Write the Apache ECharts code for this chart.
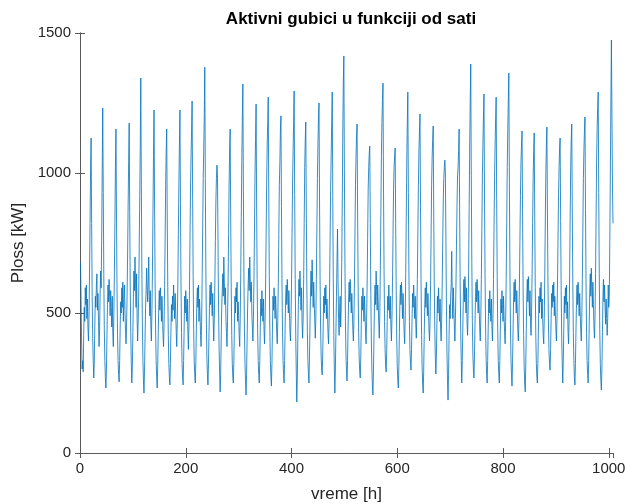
<!DOCTYPE html>
<html>
<head>
<meta charset="utf-8">
<script src="https://cdn.jsdelivr.net/npm/echarts@6/dist/echarts.min.js"></script>
<style>
html, body { margin: 0; padding: 0; background: #fff; }
#chart { width: 625px; height: 504px; }
</style>
</head>
<body>
<div id="chart"></div>
<script>
// procitano sa slike, sat po sat (1..1008)
var plossStart = [680, 560, 400, 300, 330, 290, 420, 520, 470, 590, 530, 600, 480, 550, 450, 400, 480, 640, 820, 1010];

var plossPart1 = [
	1125, 820, 560, 410, 330, 268, 320, 450, 560, 520, 600, 640, 510, 570, 470, 380, 440, 560, 650, 590, 760, 1010,
	1232, 930, 640, 440, 330, 270, 232, 300, 420, 530, 600, 540, 620, 560, 490, 580, 520, 450, 560, 430, 380, 490, 640, 820, 1020,
	1157, 850, 590, 420, 330, 280, 254, 330, 450, 540, 500, 590, 520, 610, 470, 550, 600, 510, 440, 390, 450, 560, 700, 880, 1040,
	1178, 860, 600, 430, 320, 250, 310, 430, 560, 650, 580, 700, 610, 520, 640, 480, 400, 470, 560, 740, 920, 1100,
	1339, 960, 650, 450, 330, 260, 214, 290, 410, 520, 580, 660, 590, 540, 610, 700, 560, 490, 580, 450, 400, 500, 650, 860, 1060,
	1225, 900, 620, 440, 330, 270, 232, 310, 430, 530, 580, 510, 590, 540, 470, 560, 490, 420, 380, 460, 590, 760, 960, 1080,
	1157, 840, 590, 420, 320, 270, 243, 320, 440, 530, 470, 560, 510, 600, 540, 480, 570, 500, 430, 380, 470, 600, 780, 960, 1100,
	1225, 890, 610, 430, 320, 270, 243, 330, 450, 560, 500, 580, 530, 470, 550, 430, 370, 450, 580, 760, 940, 1060, 1150,
	1257, 910, 630, 440, 330, 280, 250, 320, 440, 540, 590, 520, 600, 470, 550, 500, 420, 380, 470, 620, 800, 980, 1080, 1200,
	1378, 980, 660, 460, 340, 280, 243, 320, 430, 540, 600, 530, 610, 560, 490, 570, 460, 400, 480, 600, 760, 900, 980
];

var plossPart2 = [
	1028, 990, 760, 520, 380, 290, 218, 280, 400, 520, 580, 640, 560, 700, 610, 530, 590, 480, 430, 380, 470, 600, 780, 960, 1090,
	1157, 840, 590, 420, 320, 270, 250, 330, 450, 560, 500, 590, 540, 610, 470, 540, 490, 420, 380, 480, 640, 840, 1040, 1200,
	1318, 940, 640, 440, 320, 260, 207, 280, 400, 520, 600, 660, 580, 700, 620, 540, 610, 500, 450, 400, 480, 620, 800, 1000, 1120,
	1246, 900, 620, 430, 330, 280, 250, 330, 450, 550, 490, 580, 520, 470, 550, 440, 390, 470, 600, 780, 960, 1100, 1180,
	1271, 910, 630, 440, 330, 270, 239, 320, 450, 560, 510, 590, 530, 480, 560, 500, 430, 390, 470, 600, 780, 960, 1040, 1150,
	1204, 880, 610, 430, 330, 280, 250, 330, 460, 560, 600, 530, 620, 560, 500, 580, 510, 440, 400, 470, 600, 780, 960, 1080, 1180,
	1293, 920, 620, 420, 290, 182, 270, 410, 530, 620, 560, 650, 580, 510, 590, 460, 410, 480, 620, 820, 1020, 1120,
	1182, 860, 600, 430, 330, 280, 250, 340, 470, 580, 650, 560, 690, 600, 520, 610, 540, 470, 410, 480, 620, 800, 980, 1100, 1200,
	1250, 900, 630, 450, 350, 300, 279, 350, 460, 560, 500, 590, 530, 600, 480, 550, 500, 430, 390, 460, 590, 760, 940, 1060, 1180,
	1289, 920, 620, 420, 300, 214, 300, 430, 560, 680, 800, 620, 480, 420, 510, 560, 450, 520, 680, 900, 1150, 1320
];

var plossPart3 = [
	1418, 1010, 690, 470, 350, 290, 257, 330, 450, 550, 610, 540, 620, 560, 500, 570, 510, 440, 400, 470, 600, 780, 960, 1060, 1130,
	1175, 860, 600, 430, 340, 290, 268, 340, 460, 560, 510, 590, 540, 470, 560, 500, 430, 390, 470, 600, 770, 940, 1020, 1070,
	1096, 820, 570, 400, 300, 240, 207, 290, 420, 540, 600, 530, 650, 580, 510, 600, 540, 460, 410, 500, 660, 860, 1060, 1180, 1260,
	1321, 950, 660, 470, 370, 310, 289, 360, 470, 560, 510, 600, 540, 480, 560, 450, 400, 480, 610, 780, 940, 1020, 1060,
	1089, 820, 580, 410, 310, 260, 232, 310, 430, 540, 600, 530, 610, 550, 480, 570, 500, 430, 390, 480, 640, 840, 1040, 1180,
	1289, 930, 650, 470, 370, 320, 296, 370, 480, 570, 520, 600, 540, 480, 560, 460, 410, 490, 620, 790, 960, 1080, 1150,
	1211, 880, 610, 420, 310, 250, 214, 290, 420, 530, 590, 520, 610, 550, 490, 570, 510, 440, 400, 470, 600, 780, 960, 1060, 1120,
	1168, 850, 600, 440, 340, 282, 350, 460, 560, 500, 590, 530, 470, 550, 440, 400, 480, 600, 760, 900, 980, 1020,
	1046, 1000, 760, 520, 360, 260, 189, 280, 420, 530, 480, 560, 600, 720, 560, 480, 590, 520, 450, 400, 480, 600, 740, 880, 990, 1020, 1080,
	1157, 850, 600, 430, 330, 250, 330, 450, 560, 620, 540, 630, 570, 500, 590, 460, 420, 500, 660, 880, 1100, 1260
];

var plossPart4 = [
	1389, 990, 680, 470, 350, 300, 268, 340, 460, 560, 610, 540, 620, 560, 500, 580, 510, 440, 400, 480, 620, 800, 990, 1100, 1200,
	1282, 920, 640, 450, 340, 280, 250, 330, 450, 550, 500, 580, 520, 470, 550, 450, 400, 480, 620, 800, 980, 1100, 1190,
	1271, 910, 630, 440, 330, 280, 250, 330, 450, 550, 500, 580, 530, 470, 560, 490, 430, 390, 470, 620, 820, 1020, 1150, 1260,
	1357, 970, 670, 460, 340, 280, 239, 320, 440, 550, 610, 540, 620, 560, 500, 580, 510, 440, 400, 470, 600, 760, 920, 1040, 1100,
	1150, 850, 590, 420, 310, 250, 218, 310, 440, 560, 620, 540, 630, 560, 490, 580, 470, 420, 500, 640, 820, 980, 1080,
	1143, 840, 590, 420, 320, 270, 250, 330, 450, 560, 500, 590, 540, 610, 480, 550, 480, 420, 390, 480, 640, 840, 1000, 1100,
	1164, 860, 610, 450, 360, 320, 296, 370, 480, 570, 520, 600, 540, 610, 490, 560, 500, 440, 400, 470, 600, 760, 920, 1020, 1090,
	1125, 830, 580, 410, 320, 250, 330, 450, 560, 500, 590, 530, 600, 480, 540, 430, 390, 480, 640, 840, 1020, 1120,
	1175, 860, 600, 430, 330, 270, 243, 320, 440, 540, 600, 530, 610, 550, 490, 570, 500, 440, 400, 480, 620, 800, 980, 1080, 1150,
	1200, 870, 610, 430, 330, 280, 250, 330, 460, 570, 640, 560, 660, 590, 520, 610, 530, 450, 410, 490, 640, 840, 1040, 1160, 1230,
	1289, 930, 640, 440, 320, 260, 225, 300, 430, 560, 620, 540, 600, 520, 460, 550, 480, 420, 480, 600, 520, 560, 760, 1000, 1250,
	1475, 1200, 950, 820
];

var xTicks = [0, 200, 400, 600, 800, 1000];
var yTicks = [0, 500, 1000, 1500];

function showPlossChart() {
	var myChart = echarts.init(document.getElementById("chart"));
	var values = plossStart.concat(plossPart1, plossPart2, plossPart3, plossPart4);
	var lineData = [];
	for (var i = 0; i < values.length; i++) {
		lineData.push([i + 1, values[i]]);
	}
	var axisColor = '#5a5a5a';
	var textColor = '#262626';
	var font = 'Liberation Sans, Arial, sans-serif';
	var plain = function (v) { return String(v); };

	var option = {
		animation: false,
		title: {
			text: 'Aktivni gubici u funkciji od sati',
			left: 346,
			top: 6,
			textAlign: 'center',
			textStyle: { fontSize: 17, fontWeight: 'bold', color: '#000', fontFamily: font }
		},
		// v6: bez automatskog pomeranja zbog natpisa
		grid: { left: 80, right: 12, top: 33, bottom: 51, containLabel: false, outerBoundsMode: 'none' },
		xAxis: [{
			type: 'value',
			min: 0,
			max: values.length,
			interval: xTicks[1] - xTicks[0],
			name: 'vreme [h]',
			nameLocation: 'middle',
			nameGap: 33,
			nameTextStyle: { fontSize: 17, color: textColor, fontFamily: font },
			axisLine: { lineStyle: { color: axisColor, width: 1 } },
			axisTick: { inside: true, length: 5, lineStyle: { color: axisColor } },
			axisLabel: { fontSize: 15, color: textColor, fontFamily: font, margin: 8, showMaxLabel: false, formatter: plain },
			splitLine: { show: false }
		}, {
			type: 'value',
			position: 'top',
			min: 0,
			max: values.length,
			interval: xTicks[1] - xTicks[0],
			axisLine: { show: true, lineStyle: { color: axisColor, width: 1 } },
			axisTick: { inside: true, length: 5, lineStyle: { color: axisColor } },
			axisLabel: { show: false },
			splitLine: { show: false }
		}],
		yAxis: [{
			type: 'value',
			min: yTicks[0],
			max: yTicks[yTicks.length - 1],
			interval: yTicks[1] - yTicks[0],
			name: 'Ploss [kW]',
			nameLocation: 'middle',
			nameGap: 45,
			nameTextStyle: { fontSize: 17, color: textColor, fontFamily: font },
			axisLine: { show: true, lineStyle: { color: axisColor, width: 1 } },
			axisTick: { show: true, inside: true, length: 5, lineStyle: { color: axisColor } },
			axisLabel: { fontSize: 15, color: textColor, fontFamily: font, margin: 9, formatter: plain },
			splitLine: { show: false }
		}, {
			type: 'value',
			position: 'right',
			min: yTicks[0],
			max: yTicks[yTicks.length - 1],
			interval: yTicks[1] - yTicks[0],
			axisLine: { show: true, lineStyle: { color: axisColor, width: 1 } },
			axisTick: { show: true, inside: true, length: 5, lineStyle: { color: axisColor } },
			axisLabel: { show: false },
			splitLine: { show: false }
		}],
		series: [{
			type: 'line',
			xAxisIndex: 0,
			yAxisIndex: 0,
			data: lineData,
			showSymbol: false,
			lineStyle: { color: '#0072BD', width: 0.8 },
			itemStyle: { color: '#0072BD' }
		}]
	};
	myChart.setOption(option);
}
showPlossChart();
</script>
</body>
</html>
